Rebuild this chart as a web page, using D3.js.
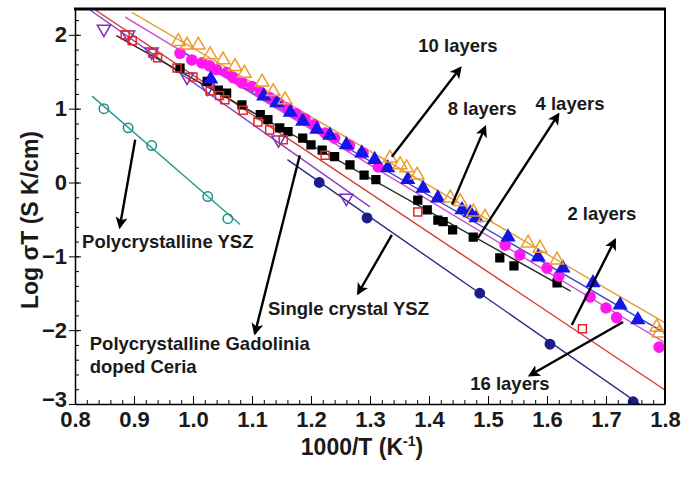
<!DOCTYPE html>
<html><head><meta charset="utf-8">
<script src="https://cdn.jsdelivr.net/npm/d3@7"></script>
<style>body{margin:0;background:#fff;} svg{display:block;} text{font-family:"Liberation Sans",Arial,sans-serif;font-weight:bold;fill:#1a1a1a;}</style>
</head><body><svg id="c" width="682" height="478"></svg>
<script>
// ---- data ----
const xTicks = [0.8,0.9,1.0,1.1,1.2,1.3,1.4,1.5,1.6,1.7,1.8];
const yTicks = [-3,-2,-1,0,1,2];

const orange10 = [[0.975,1.91],[0.99,1.86],[1.009,1.86],[1.029,1.73],[1.051,1.66],[1.071,1.57],[1.087,1.48],[1.117,1.36],[1.136,1.23],[1.156,1.12],[1.334,0.33],[1.351,0.24],[1.362,0.20],[1.38,0.10],[1.436,-0.21],[1.453,-0.26],[1.475,-0.40],[1.495,-0.47],[1.568,-0.82],[1.588,-0.89],[1.617,-1.05],[1.786,-1.96],[1.79,-2.04]];
const blue8 = [[1.03,1.40],[1.12,1.17],[1.142,1.08],[1.165,0.95],[1.186,0.83],[1.21,0.72],[1.232,0.64],[1.26,0.51],[1.286,0.40],[1.308,0.31],[1.33,0.20],[1.364,0.04],[1.39,-0.08],[1.415,-0.21],[1.456,-0.37],[1.47,-0.41],[1.48,-0.48],[1.534,-0.74],[1.585,-1.01],[1.627,-1.16],[1.678,-1.36],[1.724,-1.66],[1.754,-1.86]];
const magenta4 = [[0.978,1.75],[0.998,1.66],[1.015,1.62],[1.028,1.58],[1.04,1.53],[1.057,1.49],[1.068,1.42],[1.083,1.35],[1.10,1.30],[1.115,1.22],[1.13,1.15],[1.145,1.08],[1.16,1.01],[1.175,0.93],[1.19,0.86],[1.205,0.78],[1.224,0.67],[1.24,0.60],[1.265,0.50],[1.288,0.40],[1.314,0.21],[1.529,-0.85],[1.554,-0.98],[1.60,-1.16],[1.62,-1.27],[1.673,-1.55],[1.70,-1.70],[1.718,-1.83],[1.79,-2.23]];
const black2 = [[0.978,1.55],[1.024,1.37],[1.043,1.25],[1.057,1.21],[1.083,1.05],[1.114,0.92],[1.127,0.85],[1.147,0.74],[1.161,0.69],[1.186,0.60],[1.2,0.51],[1.219,0.44],[1.24,0.35],[1.266,0.24],[1.29,0.10],[1.31,0.04],[1.381,-0.24],[1.397,-0.37],[1.415,-0.51],[1.424,-0.53],[1.44,-0.64],[1.475,-0.74],[1.52,-1.02],[1.544,-1.13],[1.617,-1.36]];
const red16 = [[0.885,2.0],[0.897,1.92],[0.932,1.75],[0.94,1.69],[0.973,1.55],[1.0,1.43],[1.029,1.24],[1.045,1.18],[1.054,1.12],[1.085,0.98],[1.11,0.82],[1.13,0.71],[1.153,0.58],[1.224,0.37],[1.381,-0.40],[1.66,-1.98]];
const gdcPts = [[0.849,2.08],[0.89,2.0],[0.93,1.77],[0.99,1.43],[1.025,1.28],[1.145,0.58],[1.26,-0.21]];
const scYszPts = [[1.214,0.0],[1.295,-0.48],[1.486,-1.50],[1.605,-2.19],[1.746,-2.97]];
const polyYszPts = [[0.849,1.0],[0.89,0.74],[0.93,0.50],[1.025,-0.19],[1.059,-0.49]];

// fitted lines: [x1, y1, x2, y2]
const lineOrange = [0.897,2.30,1.8,-1.90];
const lineBlue = [0.98,1.78,1.8,-2.04];
const lineMagenta = [0.885,2.24,1.8,-2.17];
const lineBlack = [0.87,1.99,1.64,-1.47];
const lineRed = [0.832,2.35,1.8,-2.81];
const linePurple = [0.825,2.34,1.30,-0.33];
const lineNavy = [1.16,0.31,1.758,-3.01];
const lineTeal = [0.829,1.17,1.08,-0.57];

// annotations: text, text anchor point, arrow tail, arrow head (data units)
const notes = [
  {t:["10 layers"], at:[1.449,1.84], anchor:"middle", from:[1.337,0.35], to:[1.453,1.55]},
  {t:["8 layers"], at:[1.49,0.98], anchor:"middle", from:[1.439,-0.30], to:[1.495,0.75]},
  {t:["4 layers"], at:[1.639,1.05], anchor:"middle", from:[1.483,-0.75], to:[1.619,0.92]},
  {t:["2 layers"], at:[1.693,-0.44], anchor:"middle", from:[1.642,-1.93], to:[1.715,-0.78]},
  {t:["16 layers"], at:[1.537,-2.74], anchor:"middle", from:[1.729,-1.89], to:[1.571,-2.61]},
  {t:["Polycrystalline YSZ"], at:[0.812,-0.82], anchor:"start", from:[0.902,0.58], to:[0.876,-0.60]},
  {t:["Single crystal YSZ"], at:[1.127,-1.73], anchor:"start", from:[1.337,-0.71], to:[1.28,-1.50]},
  {t:["Polycrystalline Gadolinia","doped Ceria"], at:[0.825,-2.20], anchor:"start", from:[1.181,0.37], to:[1.105,-2.04]}
];

// ---- drawing ----
const svg = d3.select("#c");
const L=75, R=665, T=9, B=404;
const x = d3.scaleLinear().domain([0.8,1.8]).range([L,R]);
const y = d3.scaleLinear().domain([-3,2.35]).range([B,T]);

svg.append("defs").append("marker").attr("id","ah").attr("viewBox","0 0 10 10")
  .attr("refX",8).attr("refY",5).attr("markerWidth",5).attr("markerHeight",5).attr("orient","auto")
  .append("path").attr("d","M0,0 L10,5 L0,10 L2.5,5 z").attr("fill","#000");

const g = svg.append("g");
svg.append("clipPath").attr("id","pc").append("rect").attr("x",L).attr("y",T).attr("width",R-L).attr("height",B-T);
const plot = g.append("g").attr("clip-path","url(#pc)");

function fitLine(l, color){
  plot.append("line").attr("x1",x(l[0])).attr("y1",y(l[1])).attr("x2",x(l[2])).attr("y2",y(l[3]))
    .attr("stroke",color).attr("stroke-width",1.4);
}
fitLine(lineTeal,"#2a9a92");
fitLine(lineNavy,"#2a2a86");
fitLine(linePurple,"#8a3cc8");
fitLine(lineRed,"#d83a3a");
fitLine(lineBlack,"#1f2f1f");
fitLine(lineMagenta,"#c84ad0");
fitLine(lineBlue,"#3a46c0");
fitLine(lineOrange,"#e0a040");

function pts(data, type, size, fill, stroke, rot){
  const sym = d3.symbol().type(type).size(size);
  plot.append("g").selectAll("path").data(data).join("path")
    .attr("d", sym)
    .attr("transform", d=>`translate(${x(d[0])},${y(d[1])})${rot?" rotate(180)":""}`)
    .attr("fill", fill).attr("stroke", stroke).attr("stroke-width", 1.5);
}
pts(polyYszPts, d3.symbolCircle, 70, "none", "#1f8f86");
pts(scYszPts, d3.symbolCircle, 70, "#1c1c8a", "#1c1c8a");
pts(gdcPts, d3.symbolTriangle, 75, "none", "#7b2fc0", true);
pts(black2, d3.symbolSquare, 60, "#000", "#000");
pts(red16, d3.symbolSquare, 64, "none", "#e02828");
pts(magenta4, d3.symbolCircle, 80, "#ff18f0", "#ff18f0");
pts(blue8, d3.symbolTriangle, 70, "#1515e6", "#1515e6");
pts(orange10, d3.symbolTriangle, 80, "none", "#f09a28");

// annotations
notes.forEach(n=>{
  g.append("line").attr("x1",x(n.from[0])).attr("y1",y(n.from[1]))
   .attr("x2",x(n.to[0])).attr("y2",y(n.to[1]))
   .attr("stroke","#000").attr("stroke-width",2.4).attr("marker-end","url(#ah)");
  const tx = g.append("text").attr("x",x(n.at[0])).attr("y",y(n.at[1]))
   .attr("text-anchor",n.anchor).attr("dominant-baseline","middle").style("font-size","18.5px");
  n.t.forEach((s,i)=>tx.append("tspan").attr("x",x(n.at[0])).attr("dy",i?"23":"0").text(s));
});

// axes
const minorX = d3.range(0.8,1.8001,0.02);
g.append("g").attr("transform",`translate(0,${B})`)
  .call(d3.axisBottom(x).tickValues(minorX).tickSize(-4).tickFormat(""))
  .call(a=>a.select(".domain").remove());
const xa = g.append("g").attr("transform",`translate(0,${B})`)
  .call(d3.axisBottom(x).tickValues(xTicks).tickSizeInner(-8).tickSizeOuter(0).tickPadding(6).tickFormat(d3.format(".1f")));
xa.select(".domain").attr("stroke-width",1.5);
xa.selectAll("text").style("font-size","22px").attr("dy","0.75em");

const minorY = d3.range(-3,2.35,0.2);
g.append("g").attr("transform",`translate(${L},0)`)
  .call(d3.axisLeft(y).tickValues(minorY).tickSize(-4).tickFormat(""))
  .call(a=>a.select(".domain").remove());
const ya = g.append("g").attr("transform",`translate(${L},0)`)
  .call(d3.axisLeft(y).tickValues(yTicks).tickSizeInner(6).tickSizeOuter(0).tickPadding(2).tickFormat(d3.format("d")));
ya.select(".domain").attr("stroke-width",1.5);
ya.selectAll("text").style("font-size","22px").attr("dy", d => d === -3 ? "0.1em" : "0.32em");
ya.selectAll(".tick").append("line").attr("x2",6).attr("stroke","#000");

// frame top/right
g.append("line").attr("x1",L-1).attr("x2",R+1).attr("y1",T).attr("y2",T).attr("stroke","#000").attr("stroke-width",3);
g.append("line").attr("x1",R).attr("x2",R).attr("y1",T).attr("y2",B).attr("stroke","#000").attr("stroke-width",2);

// axis titles
const xt = svg.append("text").attr("x",362).attr("y",455).attr("text-anchor","middle").style("font-size","23px");
xt.append("tspan").text("1000/T (K");
xt.append("tspan").attr("dy","-9").style("font-size","14px").text("-1");
xt.append("tspan").attr("dy","9").text(")");
svg.append("text").attr("transform","translate(38,220) rotate(-90)").attr("text-anchor","middle")
  .style("font-size","23px").text("Log σT (S K/cm)");
</script></body></html>
